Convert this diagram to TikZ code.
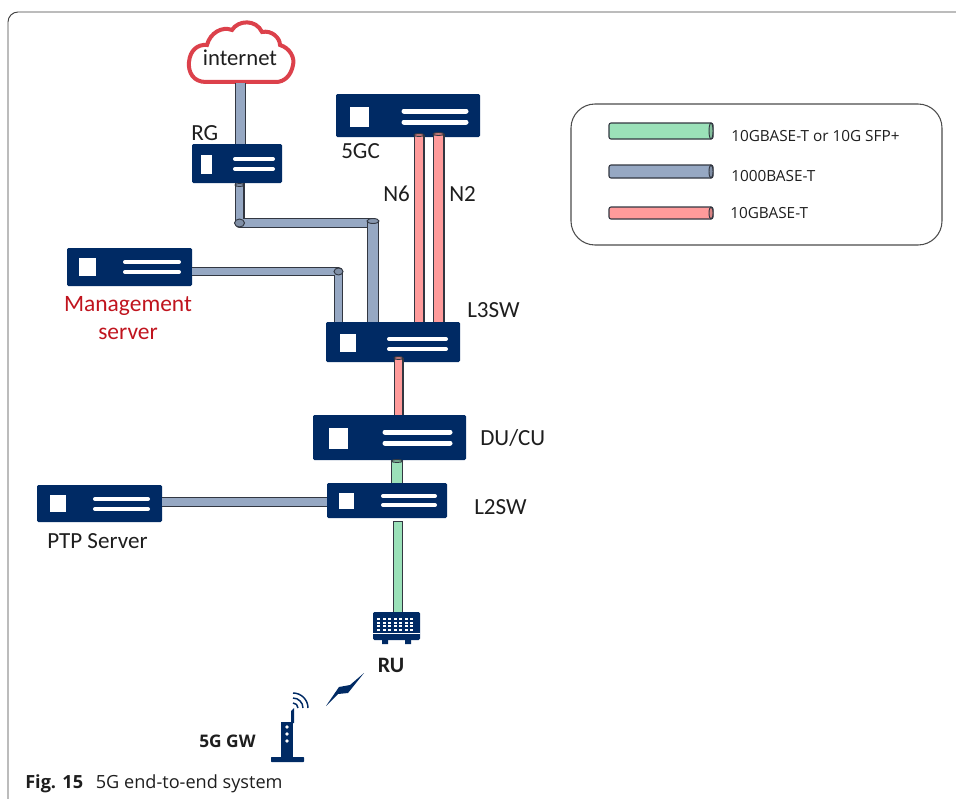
\documentclass[tikz,border=0pt]{standalone}
\usepackage{fontspec}
\setmainfont{Carlito}
\newfontfamily\opn{Open Sans}
\usetikzlibrary{calc}
\definecolor{navy}{RGB}{0,42,100}
\definecolor{cblue}{RGB}{150,168,195}
\definecolor{cred}{RGB}{255,155,155}
\definecolor{cgreen}{RGB}{155,225,185}
\definecolor{cedge}{RGB}{50,55,65}
\definecolor{cloudred}{RGB}{220,65,75}
\definecolor{mred}{RGB}{192,20,30}
\definecolor{txt}{RGB}{30,30,30}
\tikzset{
 srv/.style 2 args={fill=navy,draw=none,rounded corners=1pt,inner sep=0pt,minimum width=#1*0.75pt,minimum height=#2*0.75pt},
 srvline/.style={draw=white,line cap=round,line width=#1*0.75pt},
 sq/.style={fill=white},
 cable/.style n args={2}{draw=cedge,line width=0.9pt,double=#1,double distance=#2*0.75pt-1.8pt,line join=round},
 lab/.style={font=\fontsize{17.3}{20}\selectfont,text=txt,inner sep=0pt},
 leg/.style={font=\opn\fontsize{11.5}{13}\selectfont,text=txt,inner sep=0pt,anchor=west},
 endcap/.style={draw=cedge,line width=0.7pt},
}
\begin{document}
\begin{tikzpicture}[x=0.75pt,y=-0.75pt]
\useasboundingbox (0,0) rectangle (956,799);
% frame
\draw[draw=black!75,line width=0.7pt] (8,799) -- (8,22) arc[start angle=180,end angle=270,radius=10] -- (956,12);
% cloud
\draw[cloudred,line width=3pt,fill=white] (206,82) .. controls (193,82) and (188,72) .. (189,62) .. controls (190,50) and (198,44) .. (207,45) .. controls (210,33) and (222,26) .. (232,30) .. controls (238,20) and (256,19) .. (262,32) .. controls (272,30) and (280,38) .. (280,45) .. controls (290,48) and (295,58) .. (293,65) .. controls (291,76) and (284,82) .. (276,82) -- cycle;
\node[lab,font=\fontsize{17}{20}\selectfont,minimum width=79.5pt,minimum height=37.5pt] (inet) at (240,58) {internet};
% servers
\node[srv={144}{43}] (gc) at (408,115.5) {};
\fill[sq] (350,107) rectangle (369,127);
\draw[srvline=5] (404,111) -- (466,111); \draw[srvline=5] (404,122) -- (466,122);
\node[srv={90}{39}] (rg) at (237,163.5) {};
\fill[sq] (201,155) rectangle (212,174);
\draw[srvline=4] (235,159) -- (273,159); \draw[srvline=4] (235,169) -- (273,169);
\node[srv={125}{38}] (mg) at (129.5,267) {};
\fill[sq] (79,258) rectangle (96,276);
\draw[srvline=4] (125,262) -- (179,262); \draw[srvline=4] (125,272) -- (179,272);
\node[srv={134}{40}] (l3) at (393,342) {};
\fill[sq] (340,334) rectangle (356,352);
\draw[srvline=4] (389,339) -- (446,339); \draw[srvline=4] (389,349) -- (446,349);
\node[srv={153}{45}] (du) at (389.5,437.5) {};
\fill[sq] (329,428) rectangle (348,449);
\draw[srvline=5] (385,432) -- (450,432); \draw[srvline=5] (385,443) -- (450,443);
\node[srv={120}{35}] (l2) at (387,500.5) {};
\fill[sq] (339,493) rectangle (354,509);
\draw[srvline=4] (383,496) -- (435,496); \draw[srvline=4] (383,505) -- (435,505);
\node[srv={125}{37}] (ptp) at (99.5,503.5) {};
\fill[sq] (50,495) rectangle (66,512);
\draw[srvline=4] (95,499) -- (148,499); \draw[srvline=4] (95,509) -- (148,509);
% RU
\node[srv={47}{28}] (ru) at (396.5,626) {};
\fill[navy] (382,639) rectangle (388,644) (405,639) rectangle (411,644);
\draw[white,line width=0.4pt] (373,633.5) -- (420,633.5);
\foreach \x in {377,382.5,...,415}{\foreach \y in {618,621.5,...,629}{\fill[white] (\x,\y) rectangle ++(3.2,2.2);}}
% bolt
\fill[navy] (364,673) -- (350,685) -- (339,687) -- (326,706) -- (338,694) -- (348,693) -- cycle;
% gateway
\node[inner sep=0pt,minimum width=12*0.75pt,minimum height=36*0.75pt,fill=navy] (gw) at (287,740) {};
\fill[navy,rounded corners=0.5pt] (271,757) rectangle (304,762);
\fill[navy] (291,723) -- (291,711) -- (294,708) -- (294,723) -- cycle;
\foreach \y in {727,734,741} \fill[white] (287,\y) circle[radius=1.8];
\draw[navy,line width=1.1pt] (293,703) arc[start angle=-90,end angle=0,radius=5];
\draw[navy,line width=1.1pt] (293,698) arc[start angle=-90,end angle=0,radius=10];
\draw[navy,line width=1.1pt] (293,693) arc[start angle=-90,end angle=0,radius=15];
% cables
\draw[cable={cblue}{11}] (240.5,0 |- inet.south) -- (240.5,0 |- rg.north);
\draw[cable={cblue}{10}] (239.5,0 |- rg.south) -- (239.5,223) -- (373,223);
\draw[cable={cblue}{12}] (373,221) -- (373,0 |- l3.north);
\draw[endcap,fill=cblue!90!black] (373,221) ellipse[x radius=6,y radius=2.5];
\draw[endcap,fill=cblue!85!black] (239.5,223) ellipse[x radius=5,y radius=4];
\draw[endcap,fill=cblue!90!black] (239.5,185) ellipse[x radius=4.5,y radius=1.5];
\draw[cable={cblue}{9}] (mg.east |- 0,271.5) -- (338.5,271.5) -- (338.5,0 |- l3.north);
\draw[endcap,fill=cblue!85!black] (338.5,271.5) ellipse[x radius=4.5,y radius=3.5];
\draw[cable={cred}{11}] (419,135) -- (419,0 |- l3.north);
\draw[endcap,fill=cred!80!black] (419,135) ellipse[x radius=5,y radius=1.5];
\draw[cable={cred}{12}] (438.5,134) -- (438.5,0 |- l3.north);
\draw[endcap,fill=cred!80!black] (438.5,134) ellipse[x radius=5.5,y radius=1.5];
\draw[cable={cred}{10}] (398.5,358) -- (398.5,0 |- du.north);
\draw[endcap,fill=cred!80!black] (398.5,358) ellipse[x radius=4.5,y radius=1.5];
\draw[cable={cgreen}{12}] (397,0 |- du.south) -- (397,0 |- l2.north);
\draw[endcap,fill=cgreen!80!black] (397,461) ellipse[x radius=5.5,y radius=1.5];
\draw[cable={cgreen}{10}] (398,522) -- (398,0 |- ru.north);
\draw[endcap] (393,521.5) -- (403,521.5);
\draw[cable={cblue}{10}] (ptp.east |- 0,502) -- (l2.west |- 0,502);
% labels
\node[lab,anchor=west] (trg) at (191,133) {RG};
\node[lab,anchor=west] (t5gc) at (341,151) {5GC};
\node[lab,anchor=west] (tn6) at (383,194) {N6};
\node[lab,anchor=west] (tn2) at (449,194) {N2};
\node[lab,anchor=west] (tl3) at (467,310) {L3SW};
\node[lab,anchor=west] (tdu) at (480,438) {DU/CU};
\node[lab,anchor=west] (tl2) at (474,507) {L2SW};
\node[lab,text=mred,align=center,font=\fontsize{17.6}{21}\selectfont] (tmg) at (128,318) {Management\\server};
\node[lab,anchor=west] (tptp) at (47,541) {PTP Server};
\node[lab,font=\bfseries\fontsize{16.5}{18}\selectfont] (tru) at (391,665) {RU};
\node[lab,font=\opn\bfseries\fontsize{13}{15}\selectfont,anchor=west] (tgw) at (199,741) {5G GW};
\node[lab,font=\opn\fontsize{13.6}{16}\selectfont,anchor=west] (cap) at (25,784) {\textbf{Fig. 15}\hspace{0.7em}5G end-to-end system};
% legend
\draw[draw=black!70,line width=0.8pt,rounded corners=18pt] (571,104) rectangle (942,245);
\foreach \yy/\h/\c in {131/16/cgreen,171.5/13/cblue,213/12/cred}{
 \draw[cedge,line width=0.8pt,fill=\c,rounded corners=1.5pt] (609,\yy-\h/2) rectangle (713,\yy+\h/2);
 \draw[endcap,fill=\c!85!black] (711,\yy) ellipse[x radius=2,y radius=\h/2];
}
\node[leg] (l1) at (731,136) {10GBASE-T or 10G SFP+};
\node[leg] (l2t) at (731,176) {1000BASE-T};
\node[leg] (l3t) at (730,213) {10GBASE-T};
\end{tikzpicture}
\end{document}
